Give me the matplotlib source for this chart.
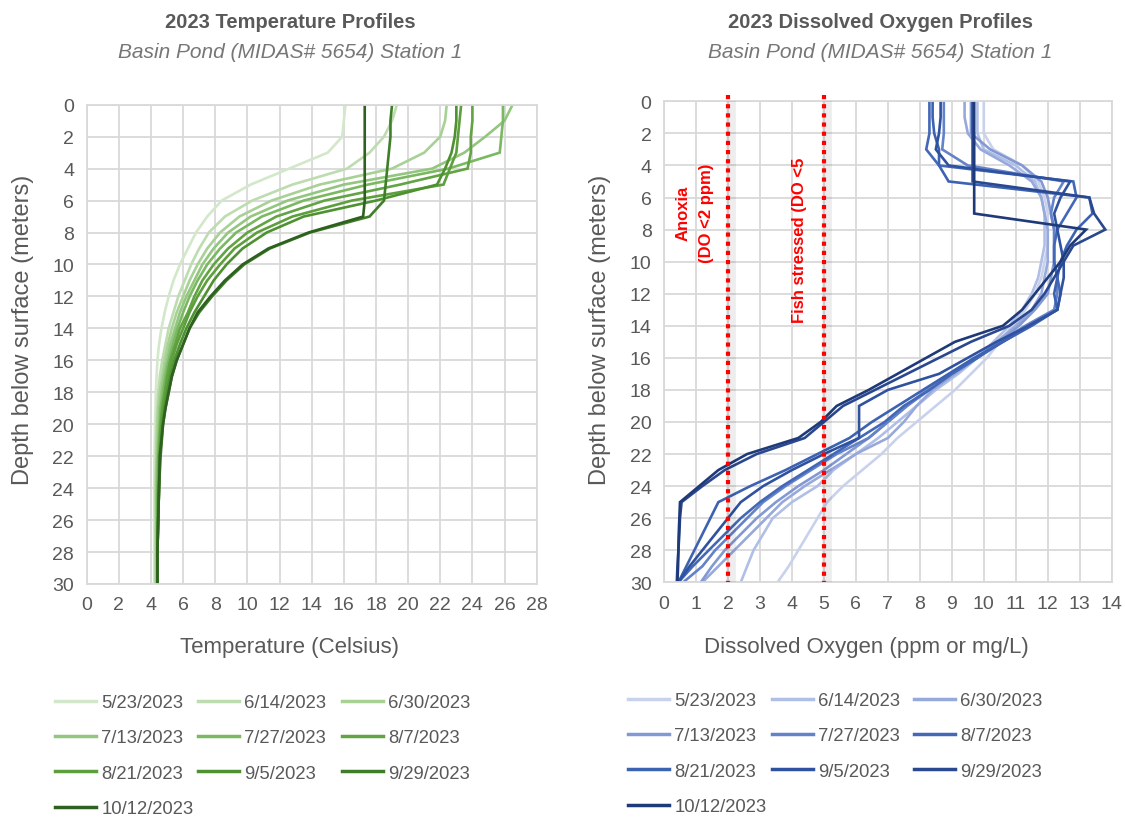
import matplotlib
matplotlib.use("Agg")
import matplotlib.pyplot as plt
from matplotlib.lines import Line2D

plt.rcParams['font.family'] = ['Liberation Sans', 'DejaVu Sans']

dates = ["5/23/2023", "6/14/2023", "6/30/2023", "7/13/2023", "7/27/2023",
         "8/7/2023", "8/21/2023", "9/5/2023", "9/29/2023", "10/12/2023"]

# temperature profiles (depth in m, temp in C)
t_depth = [0, 1, 2, 3, 4, 5, 6, 7, 8, 9, 10, 11, 12, 13, 14, 15, 16, 17, 18, 19, 20,
           22, 24, 26, 28, 30]
t_0523 = [16.1, 16.0, 15.9, 15.0, 12.6, 10.2, 8.4, 7.5, 6.8, 6.3, 5.8, 5.4, 5.1, 4.85, 4.65,
          4.5, 4.4, 4.35, 4.3, 4.28, 4.25, 4.22, 4.2, 4.2, 4.2, 4.2]
t_0614 = [19.3, 19.0, 18.5, 17.6, 16.2, 12.8, 10.3, 8.6, 7.6, 7.0, 6.5, 6.1, 5.7, 5.4, 5.1,
          4.9, 4.7, 4.55, 4.45, 4.4, 4.35, 4.3, 4.3, 4.3, 4.3, 4.3]
t_0630 = [22.4, 22.3, 22.0, 21.0, 19.0, 14.5, 11.5, 9.5, 8.3, 7.5, 6.9, 6.4, 6.0, 5.6, 5.3,
          5.05, 4.85, 4.7, 4.55, 4.45, 4.4, 4.35, 4.3, 4.3, 4.3, 4.3]
t_0713 = [26.5, 26.0, 24.8, 23.5, 21.5, 16.0, 12.5, 10.2, 8.8, 7.9, 7.2, 6.7, 6.2, 5.8, 5.5,
          5.2, 5.0, 4.8, 4.65, 4.55, 4.5, 4.4, 4.35, 4.35, 4.35, 4.35]
t_0727 = [25.9, 25.9, 25.8, 25.7, 22.5, 17.5, 13.5, 10.9, 9.3, 8.3, 7.5, 6.9, 6.4, 6.0, 5.65,
          5.35, 5.1, 4.9, 4.75, 4.6, 4.55, 4.45, 4.4, 4.4, 4.4, 4.4]
t_0807 = [24.0, 24.0, 23.9, 23.9, 23.7, 19.5, 14.8, 11.8, 10.0, 8.8, 7.9, 7.2, 6.7, 6.3, 5.8,
          5.5, 5.2, 5.0, 4.85, 4.7, 4.6, 4.5, 4.45, 4.4, 4.4, 4.4]
t_0821 = [23.3, 23.2, 23.1, 23.0, 22.6, 22.2, 16.5, 12.8, 10.6, 9.2, 8.3, 7.5, 6.9, 6.4, 6.0,
          5.6, 5.3, 5.1, 4.9, 4.75, 4.65, 4.55, 4.5, 4.45, 4.4, 4.4]
t_0905 = [23.0, 23.0, 22.9, 22.7, 22.3, 21.8, 18.0, 13.5, 11.2, 9.7, 8.7, 7.9, 7.3, 6.7, 6.2,
          5.8, 5.45, 5.2, 5.0, 4.85, 4.7, 4.55, 4.5, 4.45, 4.4, 4.4]
t_0929 = [19.0, 18.9, 18.9, 18.8, 18.7, 18.6, 18.5, 17.6, 13.9, 11.4, 9.8, 8.7, 7.8, 7.0, 6.4,
          6.0, 5.6, 5.3, 5.1, 4.9, 4.75, 4.6, 4.5, 4.45, 4.4, 4.4]
t_1012 = [17.3, 17.3, 17.3, 17.3, 17.3, 17.3, 17.3, 17.2, 13.8, 11.3, 9.7, 8.6, 7.7, 6.9, 6.4,
          6.0, 5.6, 5.3, 5.1, 4.9, 4.75, 4.55, 4.5, 4.45, 4.4, 4.4]
temps = [t_0523, t_0614, t_0630, t_0713, t_0727, t_0807, t_0821, t_0905, t_0929, t_1012]

# dissolved oxygen profiles (ppm)
o_depth = list(range(0, 31))
o_0523 = [10.0, 10.0, 10.0, 10.3, 11.2, 11.7, 11.9, 12.0, 12.0, 12.0, 11.9, 11.8, 11.6, 11.3,
          10.9, 10.5, 10.1, 9.6, 9.1, 8.5, 7.9, 7.3, 6.8, 6.2, 5.6, 5.1, 4.8, 4.5, 4.2, 3.9, 3.55]
o_0614 = [9.8, 9.8, 9.8, 10.0, 11.0, 11.6, 11.8, 11.9, 11.9, 11.9, 11.8, 11.7, 11.5, 11.2,
          10.8, 10.3, 9.8, 9.2, 8.5, 7.9, 7.3, 6.7, 6.0, 5.3, 4.8, 4.0, 3.4, 3.1, 2.8, 2.6, 2.4]
o_0630 = [9.4, 9.4, 9.5, 9.9, 10.8, 11.5, 11.8, 11.9, 12.0, 12.0, 12.0, 11.9, 11.8, 11.5,
          11.0, 10.4, 9.8, 9.1, 8.4, 7.9, 7.5, 7.0, 6.0, 5.2, 4.4, 3.7, 3.2, 2.7, 2.2, 1.7, 1.2]
o_0713 = [9.6, 9.6, 9.6, 10.2, 11.2, 11.8, 12.0, 12.1, 12.2, 12.2, 12.2, 12.1, 12.0, 11.6,
          11.1, 10.5, 9.8, 9.0, 8.2, 7.6, 7.0, 6.4, 5.7, 5.0, 4.2, 3.5, 2.9, 2.4, 1.9, 1.5, 1.15]
o_0727 = [8.75, 8.75, 8.75, 8.7, 9.5, 12.5, 12.2, 12.1, 12.2, 12.2, 12.2, 12.3, 12.3, 12.2,
          11.3, 10.5, 9.8, 9.0, 8.3, 7.6, 7.0, 6.4, 5.4, 4.6, 3.8, 3.1, 2.6, 2.1, 1.6, 1.2, 0.6]
o_0807 = [8.3, 8.3, 8.3, 8.2, 8.6, 12.8, 12.9, 12.6, 12.3, 12.2, 12.2, 12.3, 12.4, 12.3,
          11.4, 10.6, 9.8, 9.0, 8.3, 7.5, 6.9, 6.1, 5.3, 4.5, 3.7, 3.0, 2.4, 1.9, 1.4, 0.9, 0.45]
o_0821 = [8.4, 8.4, 8.45, 8.6, 8.6, 8.9, 13.3, 13.4, 12.9, 12.6, 12.4, 12.3, 12.2, 12.3,
          11.5, 10.6, 9.7, 8.9, 8.1, 7.3, 6.5, 5.8, 4.8, 3.8, 2.7, 1.7, 1.45, 1.2, 0.95, 0.7, 0.45]
o_0905 = [8.65, 8.65, 8.6, 8.5, 8.9, 12.7, 12.4, 12.2, 12.3, 12.4, 12.5, 12.5, 12.4, 12.3,
          11.4, 10.4, 9.5, 8.6, 7.0, 6.1, 6.1, 6.1, 5.0, 4.0, 3.1, 2.4, 2.0, 1.6, 1.2, 0.8, 0.45]
o_0929 = [9.65, 9.65, 9.65, 9.65, 9.65, 9.65, 13.3, 13.45, 13.8, 12.8, 12.5, 12.2, 11.9, 11.5,
          10.8, 9.6, 8.6, 7.6, 6.6, 5.6, 5.0, 4.4, 2.9, 1.9, 1.2, 0.55, 0.5, 0.48, 0.45, 0.42, 0.4]
o_1012 = [9.7, 9.7, 9.7, 9.7, 9.7, 9.7, 9.7, 9.7, 13.2, 12.7, 12.4, 12.0, 11.6, 11.2,
          10.6, 9.1, 8.2, 7.3, 6.4, 5.4, 4.9, 4.2, 2.6, 1.7, 1.1, 0.5, 0.48, 0.46, 0.45, 0.44, 0.42]
oxys = [o_0523, o_0614, o_0630, o_0713, o_0727, o_0807, o_0821, o_0905, o_0929, o_1012]

green = ['#d3e7ca', '#bddcaf', '#a7d195', '#93c67e', '#7ab961', '#62a443', '#5c9f3c',
         '#4e9131', '#3f7e29', '#2e6120']
blue = ['#c9d2ec', '#b0bfe6', '#97a9dc', '#8399d3', '#6482c8', '#4468b8', '#3c62b2',
        '#2f52a0', '#294890', '#1f3a78']

txt = '#595959'
grid = '#d9d9d9'

fig = plt.figure(figsize=(11.25, 8.2), dpi=100)
ax1 = fig.add_axes([86.7/1125, 1-585/820, 450/1125, 479.3/820])
ax2 = fig.add_axes([664/1125, 1-583.3/820, 447.7/1125, 481/820])

for i in range(10):
    ax1.plot(temps[i], t_depth, color=green[i], lw=1.9, solid_joinstyle='miter')
    ax2.plot(oxys[i], o_depth, color=blue[i], lw=1.9, solid_joinstyle='miter')

ax1.set_xlim(0, 28)
ax1.set_xticks(range(0, 29, 2))
ax2.set_xlim(0, 14)
ax2.set_xticks(range(0, 15))
for ax in (ax1, ax2):
    ax.set_ylim(30, 0)
    ax.set_yticks(range(0, 31, 2))
    ax.grid(True, color=grid, lw=1.3)
    ax.set_axisbelow(True)
    ax.tick_params(length=0, labelsize=14, colors=txt, pad=9)
    for s in ax.spines.values():
        s.set_color(grid)
        s.set_linewidth(1.3)

# threshold lines
for xv in (2, 5):
    ax2.plot([xv+0.1, xv+0.1], [0, 30], color='black', alpha=0.07, lw=7, zorder=3)
    ax2.plot([xv, xv], [-0.4, 30], color='red', lw=3, ls=(0, (1, 1.2)), zorder=4, clip_on=False)
ax2.text(0.6, 6.9, "Anoxia", rotation=90, color='red', fontsize=12, fontweight='bold',
         ha='center', va='center')
ax2.text(1.33, 6.9, "(DO <2 ppm)", rotation=90, color='red', fontsize=12, fontweight='bold',
         ha='center', va='center')
ax2.text(4.25, 8.6, "Fish stressed (DO <5", rotation=90, color='red', fontsize=12,
         fontweight='bold', ha='center', va='center')

# titles and labels
fig.text(290/1125, 1-22/820, "2023 Temperature Profiles", ha='center', va='center',
         fontsize=14.5, fontweight='bold', color=txt)
fig.text(290/1125, 1-53/820, "Basin Pond (MIDAS# 5654) Station 1", ha='center', va='center',
         fontsize=15, style='italic', color='#767676')
fig.text(880/1125, 1-22/820, "2023 Dissolved Oxygen Profiles", ha='center', va='center',
         fontsize=14.5, fontweight='bold', color=txt)
fig.text(880/1125, 1-53/820, "Basin Pond (MIDAS# 5654) Station 1", ha='center', va='center',
         fontsize=15, style='italic', color='#767676')
fig.text(290/1125, 1-648/820, "Temperature (Celsius)", ha='center', va='center',
         fontsize=16, color=txt)
fig.text(866/1125, 1-648/820, "Dissolved Oxygen (ppm or mg/L)", ha='center', va='center',
         fontsize=16, color=txt)
fig.text(23/1125, 1-330/820, "Depth below surface (meters)", rotation=90, ha='center',
         va='center', fontsize=17, color=txt)
fig.text(600/1125, 1-330/820, "Depth below surface (meters)", rotation=90, ha='center',
         va='center', fontsize=17, color=txt)

# legends, one per column, filled row by row
def col_legend(colors, x0, y0):
    for c in range(3):
        idx = list(range(c, 10, 3))
        hs = [Line2D([0], [0], color=colors[k], lw=2.5) for k in idx]
        fig.legend(hs, [dates[k] for k in idx], loc='upper left',
                   bbox_to_anchor=(x0[c]/1125, 1-y0/820), frameon=False, fontsize=13.3,
                   handlelength=2.2, handletextpad=0.3, labelspacing=1.0,
                   borderpad=0, borderaxespad=0, labelcolor=txt)

col_legend(green, [55, 198, 342], 695)
col_legend(blue, [628, 772, 914], 693)

fig.savefig("out.png", dpi=100)
